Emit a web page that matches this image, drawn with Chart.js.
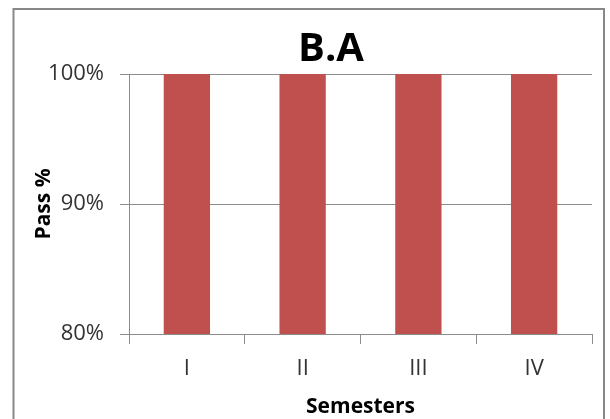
<!DOCTYPE html>
<html>
<head>
<meta charset="utf-8">
<title>B.A</title>
<script src="https://cdn.jsdelivr.net/npm/chart.js@4/dist/chart.umd.min.js"></script>
<style>
  html, body { margin: 0; padding: 0; background: #fff; overflow: hidden; }
  #wrap { width: 610px; height: 419px; }
</style>
</head>
<body>
<div id="wrap"><canvas id="barChart"></canvas></div>
<script>
// chart data
const semesters = ['I', 'II', 'III', 'IV'];
const passPercent = [100, 100, 100, 100];
const yTicks = [80, 90, 100];

const FONT = "'Open Sans', 'Liberation Sans', sans-serif";
const GRID = '#8c8c8c';

// white background + the grey frame around the whole chart
const framePlugin = {
  id: 'frame',
  beforeDraw(chart) {
    const c = chart.ctx;
    c.save();
    c.fillStyle = '#fff';
    c.fillRect(0, 0, chart.width, chart.height);
    c.strokeStyle = '#888';
    c.lineWidth = 2;
    c.strokeRect(13.5, 9, 590.5, chart.height + 20);
    c.restore();
  },
  // the title sits a bit right of the canvas centre, like the original
  afterLayout(chart) {
    const t = chart.titleBlock;
    if (t) { t.left += 28; t.right += 28; }
  }
};

const ctx = document.getElementById('barChart');
new Chart(ctx, {
  type: 'bar',
  data: {
    labels: semesters,
    datasets: [{
      label: 'Pass %',
      data: passPercent,
      backgroundColor: '#C0504D',
      borderWidth: 0,
      barPercentage: 1,
      categoryPercentage: 0.4
    }]
  },
  options: {
    responsive: true,
    maintainAspectRatio: false,
    animation: false,
    layout: { padding: { top: 12, left: 14, right: 18, bottom: 0 } },
    plugins: {
      legend: { display: false },
      tooltip: { enabled: false },
      title: {
        display: true,
        text: 'B.A',
        color: '#000',
        font: { family: FONT, size: 40, weight: 'bold' },
        padding: { top: 14, bottom: 0 }
      }
    },
    scales: {
      x: {
        grid: { drawOnChartArea: false, drawTicks: true, tickLength: 10, color: GRID },
        border: { color: GRID, width: 1 },
        ticks: { color: '#333', font: { family: FONT, size: 22 }, padding: 12 },
        title: {
          display: true,
          text: 'Semesters',
          color: '#000',
          font: { family: FONT, size: 21, weight: 'bold', lineHeight: 1 },
          padding: { top: 0, bottom: 1 }
        },
        afterFit(scale) { scale.height = 85; }
      },
      y: {
        min: 80,
        max: 100,
        afterBuildTicks(scale) { scale.ticks = yTicks.map(v => ({ value: v })); },
        grid: { color: GRID, tickLength: 9 },
        border: { color: GRID, width: 1 },
        ticks: {
          color: '#333',
          font: { family: FONT, size: 22 },
          padding: 16,
          callback: v => v + '%'
        },
        title: {
          display: true,
          text: 'Pass %',
          color: '#000',
          font: { family: FONT, size: 21, weight: 'bold' },
          padding: { top: 17, bottom: 0 }
        },
        afterFit(scale) { scale.width = 115; }
      }
    }
  },
  plugins: [framePlugin]
});
</script>
</body>
</html>
